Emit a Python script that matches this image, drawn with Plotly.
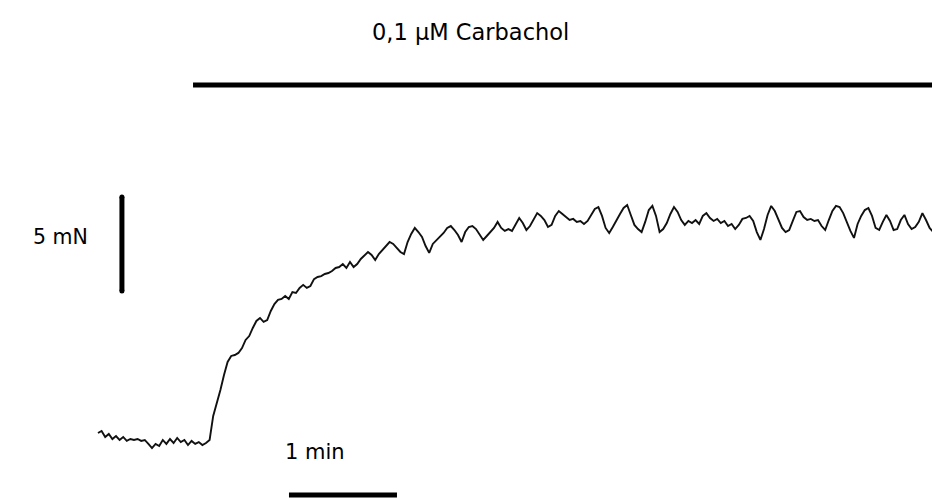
import numpy as np
import plotly.graph_objects as go

# Isometric force recording, sampled every 2 s (force in mN, relative to resting tone)
SAMPLE_INTERVAL_S = 2.0
force_mN = [
    0.21, 0.32, 0.00, 0.16, -0.11, 0.05, -0.16, 0.00, -0.21, -0.11,
    -0.16, -0.11, -0.21, -0.16, -0.37, -0.59, -0.37, -0.48, -0.16, -0.37,
    -0.11, -0.32, -0.05, -0.27, -0.16, -0.43, -0.21, -0.37, -0.27, -0.43,
    -0.32, -0.16, 1.12, 1.76, 2.50, 3.30, 3.99, 4.31, 4.36, 4.47,
    4.73, 5.16, 5.37, 5.80, 6.17, 6.33, 6.12, 6.22, 6.70, 7.07,
    7.29, 7.34, 7.50, 7.34, 7.71, 7.66, 7.93, 8.09, 7.93, 8.03,
    8.40, 8.51, 8.56, 8.67, 8.72, 8.83, 8.99, 9.04, 9.20, 8.99,
    9.31, 9.04, 9.20, 9.47, 9.63, 9.84, 9.68, 9.41, 9.73, 9.95,
    10.16, 10.37, 10.27, 10.05, 9.84, 9.73, 10.37, 10.80, 11.12, 10.90,
    10.64, 10.16, 9.79, 10.27, 10.48, 10.64, 10.85, 11.12, 11.22, 11.01,
    10.74, 10.37, 10.90, 11.17, 11.22, 11.06, 10.80, 10.48, 10.69, 10.90,
    11.12, 11.44, 11.12, 10.96, 11.06, 10.96, 11.33, 11.65, 11.38, 11.01,
    11.22, 11.54, 11.91, 11.76, 11.54, 11.17, 11.28, 11.76, 12.02, 11.86,
    11.70, 11.54, 11.60, 11.44, 11.49, 11.33, 11.49, 11.81, 12.13, 12.23,
    11.76, 11.12, 10.85, 11.17, 11.54, 11.86, 12.18, 12.34, 11.81, 11.28,
    11.06, 10.90, 11.44, 12.07, 12.29, 11.76, 10.90, 11.06, 11.38, 11.86,
    12.23, 11.97, 11.54, 11.28, 11.49, 11.38, 11.54, 11.33, 11.76, 11.91,
    11.65, 11.49, 11.60, 11.38, 11.49, 11.22, 11.33, 11.06, 11.28, 11.60,
    11.65, 11.76, 11.49, 10.90, 10.48, 11.06, 11.81, 12.29, 12.02, 11.60,
    11.12, 10.90, 11.01, 11.49, 11.97, 12.02, 11.70, 11.54, 11.60, 11.49,
    11.54, 11.22, 11.01, 11.54, 12.02, 12.29, 12.23, 11.91, 11.38, 10.96,
    10.59, 11.33, 11.76, 12.07, 12.18, 11.76, 11.12, 11.01, 11.44, 11.81,
    11.49, 11.01, 11.06, 11.54, 11.81, 11.33, 11.06, 11.17, 11.44, 11.91,
    11.54, 11.12, 10.90,
]
time_s = np.arange(len(force_mN)) * SAMPLE_INTERVAL_S

# Drug application and calibration bars
DRUG_LABEL = "0,1 µM Carbachol"
DRUG_START_S = 52.8
FORCE_BAR_MN = 5
FORCE_BAR_LABEL = "5 mN"
TIME_BAR_S = 60
TIME_BAR_LABEL = "1 min"

# Axis windows (s, mN)
X_RANGE = [-54.44, 463.33]
Y_RANGE = [-3.30, 23.245]

FONT = "DejaVu Sans"

fig = go.Figure()

fig.add_trace(go.Scatter(
    x=time_s, y=force_mN, mode="lines",
    line=dict(color="#111111", width=1.9),
    hoverinfo="skip", showlegend=False,
))

# Carbachol application bar
fig.add_trace(go.Scatter(
    x=[DRUG_START_S, X_RANGE[1] + 5], y=[18.72, 18.72], mode="lines",
    line=dict(color="black", width=5), hoverinfo="skip", showlegend=False,
))

# Force calibration bar (vertical)
force_bar_x = 13.3
force_bar_y0 = 7.77
fig.add_trace(go.Scatter(
    x=[force_bar_x, force_bar_x], y=[force_bar_y0, force_bar_y0 + FORCE_BAR_MN],
    mode="lines+markers", marker=dict(size=5, color="black"),
    line=dict(color="black", width=5), hoverinfo="skip", showlegend=False,
))

# Time calibration bar (horizontal)
time_bar_x0 = 106.1
time_bar_y = -3.09
fig.add_trace(go.Scatter(
    x=[time_bar_x0, time_bar_x0 + TIME_BAR_S], y=[time_bar_y, time_bar_y],
    mode="lines", line=dict(color="black", width=5),
    hoverinfo="skip", showlegend=False,
))

annotations = [
    dict(x=206.7, y=21.54, text=DRUG_LABEL, size=22.5),
    dict(x=-20.6, y=10.64, text=FORCE_BAR_LABEL, size=20.5),
    dict(x=120.6, y=-0.80, text=TIME_BAR_LABEL, size=21),
]
for a in annotations:
    fig.add_annotation(
        x=a["x"], y=a["y"], text=a["text"], showarrow=False,
        xanchor="center", yanchor="middle",
        font=dict(family=FONT, size=a["size"], color="black"),
    )

fig.update_layout(
    width=932, height=499,
    margin=dict(l=0, r=0, t=0, b=0),
    paper_bgcolor="white", plot_bgcolor="white",
    xaxis=dict(range=X_RANGE, visible=False, fixedrange=True),
    yaxis=dict(range=Y_RANGE, visible=False, fixedrange=True),
)

fig.write_html("out.html")
